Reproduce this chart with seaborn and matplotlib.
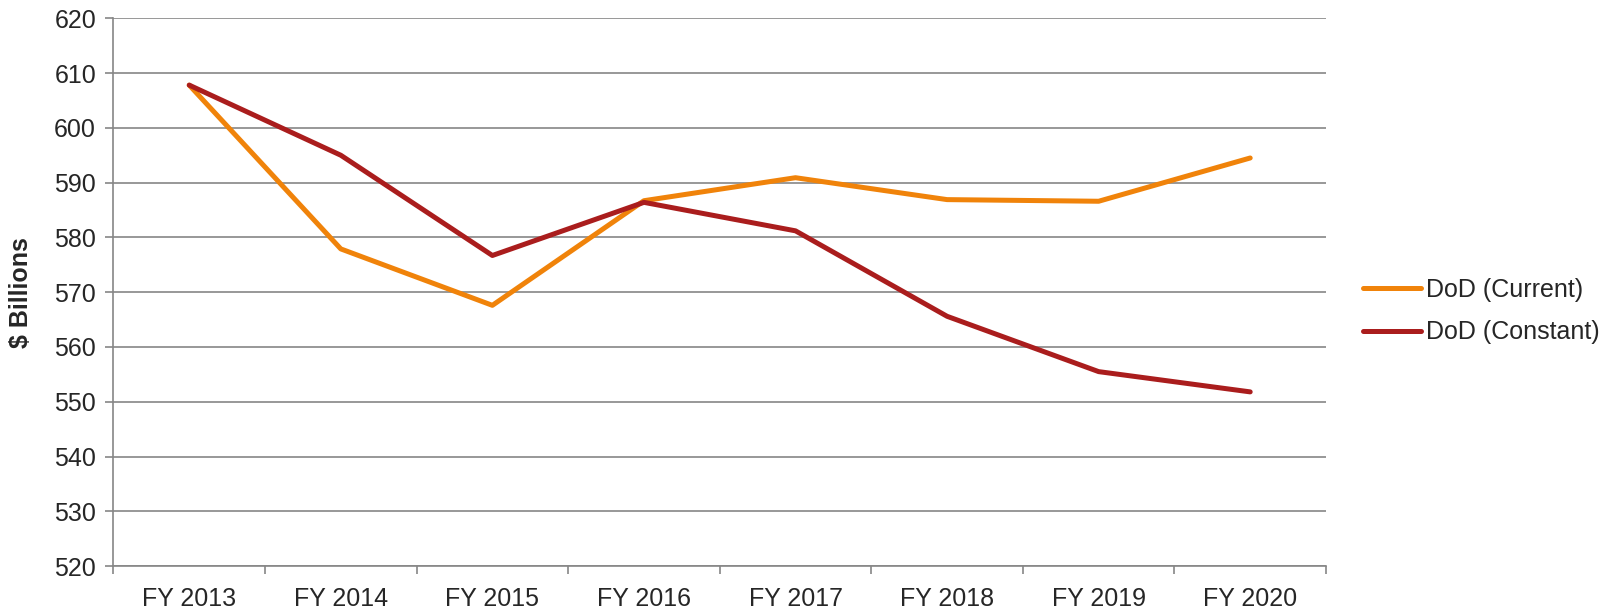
import numpy as np
import pandas as pd
import seaborn as sns
from matplotlib import pyplot as plt
from matplotlib.ticker import FixedLocator


years = ["FY 2013", "FY 2014", "FY 2015", "FY 2016", "FY 2017", "FY 2018", "FY 2019", "FY 2020"]
current = [607.8, 577.9, 567.6, 586.7, 590.9, 586.9, 586.6, 594.5]
constant = [607.8, 595.0, 576.7, 586.4, 581.2, 565.6, 555.5, 551.8]
series_names = ["DoD (Current)", "DoD (Constant)"]


def build_frame():
    """
    Long-form table so seaborn can split the series by hue.
    """
    data = pd.DataFrame({"year": years * 2,
                         "value": current + constant,
                         "series": [series_names[0]] * len(years) + [series_names[1]] * len(years)})
    data["pos"] = list(range(len(years))) * 2
    return data


def make_chart(data):
    sns.set_style("white")
    plt.rcParams["font.family"] = ["Liberation Sans", "DejaVu Sans"]

    fig = plt.figure(figsize=(16.21, 6.10), dpi=100)
    ax = fig.add_axes([0.070, 0.072, 0.748, 0.898])

    sns.lineplot(data=data, x="pos", y="value", hue="series",
                 palette=["#F0830A", "#AA1D1D"], linewidth=3.6,
                 sort=False, ax=ax, legend=True)

    ax.set_xlim(-0.5, len(years) - 0.5)
    ax.set_ylim(520, 620)
    ax.set_yticks(np.arange(520, 621, 10))
    ax.set_xticks(range(len(years)))
    ax.set_xticklabels(years)
    ax.xaxis.set_minor_locator(FixedLocator(np.arange(-0.5, len(years), 1)))
    ax.tick_params(axis="x", which="major", bottom=True, length=0, pad=15, labelsize=18)
    ax.tick_params(axis="x", which="minor", bottom=True, length=6, width=1.2, color="#868686", direction="out")
    ax.tick_params(axis="y", left=True, length=5.5, width=1.2, color="#868686", direction="out", pad=7, labelsize=18)

    ax.grid(axis="y", color="#868686", linewidth=1.2)
    ax.set_axisbelow(True)
    for side in ["top", "right"]:
        ax.spines[side].set_visible(False)
    for side in ["left", "bottom"]:
        ax.spines[side].set_color("#868686")
        ax.spines[side].set_linewidth(1.2)

    ax.set_xlabel("")
    ax.set_ylabel("$ Billions", fontsize=18, fontweight="bold", labelpad=15)

    handles, labels = ax.get_legend_handles_labels()
    ax.legend(handles, labels, loc="center left", bbox_to_anchor=(0.827, 0.49),
              bbox_transform=fig.transFigure, frameon=False, fontsize=18,
              handlelength=2.3, handletextpad=0.2, labelspacing=0.75)

    plt.savefig("out.png", dpi=100)
    plt.close()


def main():
    data = build_frame()
    make_chart(data)

main()
